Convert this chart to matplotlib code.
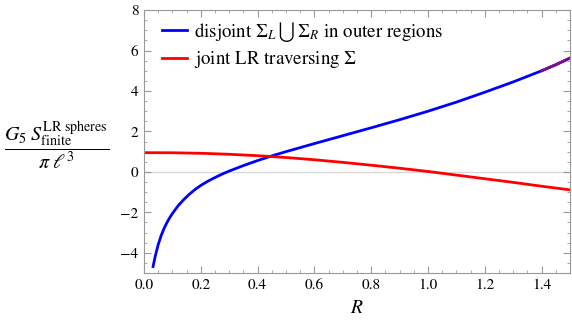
import matplotlib
matplotlib.use('Agg')
import matplotlib.pyplot as plt
from matplotlib.ticker import MultipleLocator, FormatStrFormatter

plt.rcParams['font.family'] = 'STIXGeneral'
plt.rcParams['mathtext.fontset'] = 'stix'

# blue curve: disjoint surfaces
r_blue = [0.032, 0.04, 0.05, 0.06, 0.07, 0.08, 0.09, 0.1, 0.12, 0.14, 0.16, 0.18,
          0.2, 0.225, 0.25, 0.275, 0.3, 0.35, 0.4, 0.45, 0.5, 0.6, 0.7, 0.8, 0.9, 1.0,
          1.1, 1.2, 1.3, 1.4, 1.45, 1.5]
s_blue = [-4.68, -4.15, -3.6, -3.17, -2.82, -2.53, -2.28, -2.06, -1.68, -1.37, -1.1, -0.87,
          -0.67, -0.46, -0.28, -0.11, 0.04, 0.31, 0.56, 0.79, 1.0, 1.4, 1.79, 2.18, 2.58, 3.0,
          3.45, 3.94, 4.45, 5.0, 5.3, 5.63]

# red curve: joint surface
r_red = [0.0, 0.1, 0.2, 0.3, 0.4, 0.5, 0.6, 0.7, 0.8, 0.9, 1.0, 1.1, 1.2, 1.3, 1.4, 1.5]
s_red = [0.95, 0.945, 0.92, 0.87, 0.8, 0.71, 0.6, 0.47, 0.33, 0.18, 0.02, -0.16,
         -0.34, -0.52, -0.71, -0.89]

fig = plt.figure(figsize=(5.72, 3.25), dpi=100)
ax = fig.add_axes([0.2517, 0.16, 0.745, 0.809])

ax.axhline(0, color='#d9d9d9', linewidth=1.0, zorder=1)
ax.plot(r_blue, s_blue, color='#0000ff', linewidth=2.0,
        label=r'disjoint $\Sigma_L\, \bigcup\, \Sigma_R$ in outer regions')
ax.plot(r_red, s_red, color='#ff0000', linewidth=2.0,
        label=r'joint LR traversing $\Sigma$')
# purple tail where the blue curve meets the corner
ax.plot(r_blue[-3:], s_blue[-3:], color='#80108a', linewidth=2.0)

ax.set_xlim(0, 1.5)
ax.set_ylim(-5, 8)
ax.xaxis.set_major_locator(MultipleLocator(0.2))
ax.xaxis.set_minor_locator(MultipleLocator(0.05))
ax.yaxis.set_major_locator(MultipleLocator(2))
ax.yaxis.set_minor_locator(MultipleLocator(0.5))
ax.xaxis.set_major_formatter(FormatStrFormatter('%.1f'))
ax.tick_params(which='both', direction='in', top=True, right=True,
               color='#999999', labelsize=11, pad=4)
ax.tick_params(which='major', length=5, width=0.8)
ax.tick_params(which='minor', length=2.5, width=0.6)
for sp in ax.spines.values():
    sp.set_color('#999999')
    sp.set_linewidth(0.8)

ax.set_xlabel(r'$R$', fontsize=14, labelpad=6)
fig.text(0.0997, 0.554,
         r'$\dfrac{G_5\; S^{\mathrm{LR\ spheres}}_{\mathrm{finite}}}{\pi\;\ell^3}$',
         fontsize=14.5, ha='center', va='center')

ax.legend(loc='upper left', bbox_to_anchor=(0.012, 1.014), frameon=False,
          fontsize=13.6, handlelength=1.3, handletextpad=0.4,
          borderaxespad=0.3, labelspacing=0.3)

plt.savefig('out.png', dpi=100)
